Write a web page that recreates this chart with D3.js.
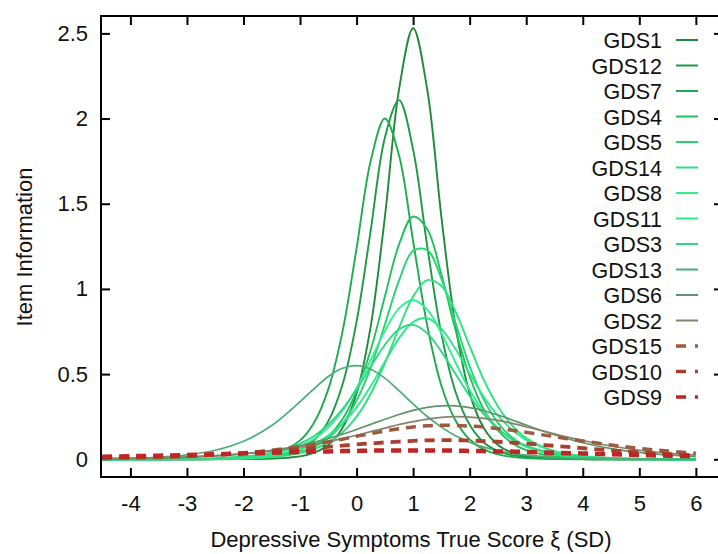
<!DOCTYPE html>
<html>
<head>
<meta charset="utf-8">
<script src="https://cdn.jsdelivr.net/npm/d3@7"></script>
<style>
  body { margin: 0; background: #fff; }
  svg { display: block; font-family: "Liberation Sans", Arial, sans-serif; }
</style>
</head>
<body>
<svg width="718" height="554"></svg>
<script>
// theta grid (SD units) the curves were read at
var theta = [-4.5, -4, -3.5, -3, -2.5, -2, -1.5, -1, -0.75, -0.5, -0.25, 0, 0.25, 0.5, 0.75,
             1, 1.25, 1.5, 1.75, 2, 2.25, 2.5, 2.75, 3, 3.5, 4, 4.5, 5, 5.5, 6];

// item information, one array per item
var GDS1  = [0,0,0,0,0,0.001,0.004,0.017,0.039,0.084,0.184,0.387,0.782,1.422,2.169,2.53,2.169,1.422,0.782,0.387,0.184,0.084,0.039,0.017,0.004,0.001,0,0,0,0];
var GDS12 = [0,0,0,0,0.001,0.003,0.013,0.055,0.113,0.224,0.437,0.808,1.344,1.888,2.108,1.817,1.249,0.736,0.395,0.203,0.099,0.049,0.024,0.012,0.003,0.001,0,0,0,0];
var GDS7  = [0,0,0,0,0.002,0.007,0.027,0.111,0.216,0.412,0.748,1.238,1.752,2.0,1.784,1.28,0.784,0.432,0.228,0.116,0.058,0.029,0.014,0.007,0.002,0,0,0,0,0];
var GDS4  = [0,0,0,0.001,0.001,0.004,0.013,0.042,0.077,0.135,0.235,0.399,0.641,0.955,1.26,1.425,1.35,1.084,0.759,0.486,0.292,0.169,0.095,0.054,0.016,0.005,0.001,0,0,0];
var GDS5  = [0,0,0,0.001,0.002,0.005,0.014,0.042,0.073,0.124,0.209,0.344,0.538,0.791,1.049,1.224,1.228,1.059,0.8,0.546,0.35,0.214,0.128,0.075,0.025,0.008,0.003,0.001,0,0];
var GDS14 = [0,0,0,0.001,0.002,0.005,0.013,0.036,0.06,0.098,0.157,0.25,0.385,0.564,0.771,0.956,1.052,1.017,0.867,0.664,0.466,0.31,0.199,0.124,0.046,0.017,0.006,0.002,0.001,0];
var GDS8  = [0,0,0.001,0.002,0.004,0.012,0.03,0.077,0.12,0.188,0.285,0.418,0.582,0.753,0.886,0.935,0.878,0.74,0.568,0.407,0.278,0.182,0.116,0.073,0.029,0.011,0.004,0.002,0.001,0];
var GDS11 = [0,0,0.001,0.002,0.004,0.01,0.024,0.059,0.092,0.139,0.209,0.305,0.429,0.572,0.71,0.806,0.828,0.767,0.647,0.503,0.366,0.256,0.173,0.114,0.048,0.02,0.008,0.003,0.001,0];
var GDS3  = [0,0.001,0.001,0.003,0.007,0.016,0.039,0.092,0.137,0.204,0.295,0.41,0.544,0.671,0.763,0.789,0.739,0.632,0.501,0.371,0.263,0.18,0.12,0.08,0.034,0.014,0.006,0.002,0.001,0];
var GDS13 = [0.003,0.006,0.012,0.026,0.053,0.106,0.198,0.338,0.415,0.486,0.534,0.55,0.529,0.476,0.403,0.325,0.251,0.189,0.138,0.1,0.071,0.05,0.035,0.024,0.012,0.006,0.003,0.001,0,0];
var GDS6  = [0.003,0.005,0.008,0.012,0.02,0.032,0.052,0.081,0.1,0.122,0.147,0.175,0.205,0.235,0.263,0.287,0.305,0.314,0.313,0.303,0.285,0.26,0.231,0.201,0.144,0.097,0.063,0.04,0.025,0.015];
var GDS2  = [0.004,0.006,0.009,0.014,0.022,0.033,0.049,0.072,0.087,0.103,0.121,0.141,0.162,0.183,0.204,0.221,0.236,0.246,0.25,0.248,0.24,0.228,0.211,0.191,0.149,0.11,0.078,0.053,0.036,0.024];
var GDS15 = [0.005,0.007,0.011,0.017,0.025,0.037,0.053,0.075,0.088,0.103,0.118,0.135,0.15,0.166,0.179,0.19,0.197,0.2,0.199,0.195,0.189,0.18,0.17,0.158,0.133,0.107,0.084,0.064,0.048,0.035];
var GDS10 = [0.009,0.012,0.016,0.021,0.028,0.037,0.048,0.06,0.067,0.073,0.08,0.087,0.093,0.099,0.104,0.108,0.111,0.112,0.112,0.11,0.107,0.103,0.098,0.092,0.079,0.065,0.052,0.041,0.031,0.024];
var GDS9  = [0.015,0.018,0.021,0.025,0.029,0.034,0.038,0.043,0.045,0.046,0.048,0.049,0.051,0.051,0.052,0.052,0.052,0.051,0.051,0.049,0.048,0.046,0.045,0.043,0.038,0.034,0.029,0.025,0.021,0.018];

var itemNames = ['GDS1','GDS12','GDS7','GDS4','GDS5','GDS14','GDS8','GDS11','GDS3','GDS13','GDS6','GDS2','GDS15','GDS10','GDS9'];
var itemValues = [GDS1, GDS12, GDS7, GDS4, GDS5, GDS14, GDS8, GDS11, GDS3, GDS13, GDS6, GDS2, GDS15, GDS10, GDS9];

var xTicks = [-4, -3, -2, -1, 0, 1, 2, 3, 4, 5, 6];
var yTicks = [0, 0.5, 1, 1.5, 2, 2.5];

// styles per item
var colors = ['#1f8a3c','#1e9a44','#1fac50','#22c05e','#27d570','#2ce27e','#33f08f','#30e88c',
              '#2fd884','#4aae76','#5e966a','#83846c','#9c5a3e','#a8402e','#c02424'];
var dashed = [false,false,false,false,false,false,false,false,false,false,false,false,true,true,true];
var widths = [1.9,1.9,1.9,1.9,1.9,1.9,1.9,1.9,1.9,1.7,1.7,1.7,3.5,3.8,4.5];

var svg = d3.select('svg');

var frame = { l: 101, t: 16, r: 723, b: 477 };

var x = d3.scaleLinear().domain([-4.52, 6.48]).range([frame.l, frame.r]);
var y = d3.scaleLinear().domain([-0.104, 2.602]).range([frame.b, frame.t]);

var fontSize = 22;

// axes (gnuplot style: ticks inside, mirrored)
var tick = 9;
svg.append('g')
    .attr('transform', 'translate(0,' + frame.b + ')')
    .call(d3.axisBottom(x).tickValues(xTicks).tickSize(-tick).tickPadding(18).tickFormat(d => String(d)))
    .call(g => g.select('.domain').remove())
    .call(g => g.selectAll('text').attr('font-size', fontSize).attr('fill', '#111').attr('font-family', null));

svg.append('g')
    .attr('transform', 'translate(0,' + frame.t + ')')
    .call(d3.axisTop(x).tickValues(xTicks).tickSize(-tick).tickFormat(''))
    .call(g => g.select('.domain').remove());

svg.append('g')
    .attr('transform', 'translate(' + frame.l + ',0)')
    .call(d3.axisLeft(y).tickValues(yTicks).tickSize(-tick).tickPadding(13).tickFormat(d => String(d)))
    .call(g => g.select('.domain').remove())
    .call(g => g.selectAll('text').attr('font-size', fontSize).attr('fill', '#111').attr('font-family', null));

svg.append('g')
    .attr('transform', 'translate(' + frame.r + ',0)')
    .call(d3.axisRight(y).tickValues(yTicks).tickSize(-tick).tickFormat(''))
    .call(g => g.select('.domain').remove());

svg.selectAll('.tick line').attr('stroke', '#000').attr('stroke-width', 2);

// curves
var line = d3.line()
    .x(function(d, i) { return x(theta[i]); })
    .y(function(d) { return y(d); })
    .curve(d3.curveCatmullRom);

var curvesG = svg.append('g');
itemValues.forEach(function(vals, k) {
    curvesG.append('path')
        .attr('d', line(vals))
        .attr('fill', 'none')
        .attr('stroke', colors[k])
        .attr('stroke-width', widths[k])
        .attr('stroke-dasharray', dashed[k] ? '10,7' : null);
});

// frame
svg.append('rect')
    .attr('x', frame.l).attr('y', frame.t)
    .attr('width', frame.r - frame.l).attr('height', frame.b - frame.t)
    .attr('fill', 'none').attr('stroke', '#000').attr('stroke-width', 2);

// legend
var legendY = d3.scalePoint().domain(itemNames).range([40, 397]);
var legend = svg.append('g');
itemNames.forEach(function(name, k) {
    var ly = legendY(name);
    legend.append('text')
        .attr('x', 662).attr('y', ly + 8)
        .attr('text-anchor', 'end')
        .attr('font-size', 21.5)
        .attr('fill', '#111')
        .text(name);
    legend.append('line')
        .attr('x1', 676).attr('x2', 698)
        .attr('y1', ly).attr('y2', ly)
        .attr('stroke', colors[k])
        .attr('stroke-width', dashed[k] ? 3.5 : 2)
        .attr('stroke-dasharray', dashed[k] ? '10,9' : null);
});

// axis titles
svg.append('text')
    .attr('x', 411).attr('y', 547)
    .attr('text-anchor', 'middle')
    .attr('font-size', fontSize)
    .attr('fill', '#111')
    .text('Depressive Symptoms True Score ξ (SD)');

svg.append('text')
    .attr('transform', 'translate(32,247) rotate(-90)')
    .attr('text-anchor', 'middle')
    .attr('font-size', fontSize)
    .attr('fill', '#111')
    .text('Item Information');
</script>
</body>
</html>
